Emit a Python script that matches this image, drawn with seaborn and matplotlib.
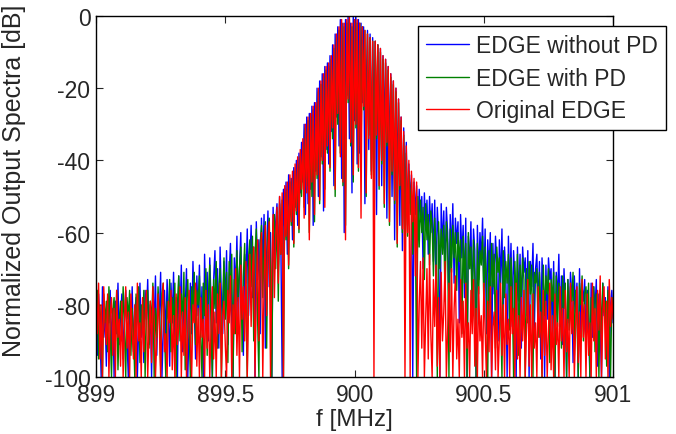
import numpy as np
import pandas as pd
import seaborn as sns
import matplotlib
matplotlib.use("Agg")
import matplotlib.pyplot as plt

# frequency axis, 0.005 MHz steps from 899 to 901
f_start = 899.0
f_step = 0.005

# EDGE without PD (blue)
without_pd = [
    -80, -94, -77, -86, -100, -75, -89, -82, -97, -78, -85, -76, -92, -81, -100, -79, -88, -74, -91, -83,
    -77, -95, -84, -76, -90, -100, -79, -87, -75, -93, -82, -78, -100, -86, -74, -89, -81, -96, -76, -84,
    -73, -91, -80, -100, -75, -86, -72, -94, -79, -83, -71, -100, -88, -76, -90, -73, -82, -97, -74, -85,
    -71, -89, -78, -100, -72, -84, -69, -93, -77, -81, -70, -100, -86, -74, -88, -68, -80, -95, -72, -83,
    -69, -87, -75, -100, -66, -82, -71, -90, -67, -79, -100, -73, -65, -85, -70, -92, -64, -78, -88, -68,
    -80, -65, -91, -72, -63, -84, -100, -67, -76, -61, -86, -70, -60, -81, -94, -66, -74, -59, -83, -69,
    -58, -78, -64, -100, -57, -73, -62, -88, -56, -70, -55, -92, -66, -54, -75, -60, -100, -53, -68, -57,
    -52, -71, -50, -63, -100, -48, -59, -46, -66, -44, -55, -45, -62, -42, -53, -40, -58, -38, -49, -35,
    -46, -30, -55, -28, -52, -27, -48, -25, -58, -24, -43, -20, -50, -18, -39, -16, -54, -14, -37, -13,
    -41, -11, -32, -8, -47, -5, -28, -3, -36, -1, -45, -2, -60, -1, -22, 0, -34, -2, -49, 0,
    -29, 0, -41, -1, -38, -2, -24, -3, -52, -21, -4, -37, -5, -43, -6, -30, -7, -55, -8, -35,
    -9, -47, -11, -33, -12, -56, -14, -40, -16, -50, -18, -62, -20, -46, -23, -58, -28, -65, -31, -52,
    -35, -58, -41, -52, -44, -100, -46, -55, -47, -62, -48, -57, -50, -70, -49, -59, -51, -66, -50, -60,
    -52, -68, -51, -75, -53, -61, -100, -52, -64, -54, -72, -53, -60, -80, -55, -66, -52, -74, -56, -63,
    -57, -85, -55, -67, -58, -78, -56, -100, -61, -70, -57, -82, -59, -65, -100, -58, -73, -60, -68, -56,
    -75, -59, -88, -62, -71, -60, -100, -63, -77, -61, -69, -90, -62, -74, -59, -84, -64, -72, -100, -61,
    -76, -63, -86, -65, -73, -100, -64, -79, -66, -92, -64, -71, -67, -83, -65, -100, -68, -75, -63, -88,
    -70, -66, -81, -68, -95, -67, -76, -100, -69, -84, -67, -73, -70, -90, -68, -100, -71, -79, -66, -86,
    -72, -91, -70, -80, -100, -73, -85, -71, -77, -96, -72, -82, -74, -100, -70, -88, -75, -79, -73, -93,
    -76, -84, -100, -74, -89, -75, -81, -73, -97, -77, -86, -100, -74, -83, -78, -92, -75, -100, -80, -76,
    -85,
]

# EDGE with PD (green)
with_pd = [
    -83, -76, -95, -80, -88, -100, -77, -85, -79, -93, -75, -87, -100, -82, -78, -90, -76, -98, -84, -79,
    -90, -75, -86, -100, -78, -84, -76, -94, -81, -88, -100, -77, -83, -75, -96, -80, -87, -76, -100, -82,
    -76, -92, -79, -85, -74, -100, -81, -89, -75, -83, -97, -77, -74, -88, -100, -79, -84, -73, -93, -78,
    -86, -74, -100, -80, -72, -90, -77, -84, -71, -98, -79, -73, -87, -100, -75, -82, -71, -91, -76, -80,
    -72, -89, -100, -74, -83, -70, -94, -77, -69, -86, -100, -73, -81, -68, -92, -75, -70, -100, -79, -67,
    -84, -71, -96, -68, -77, -66, -100, -73, -88, -65, -79, -70, -64, -93, -72, -63, -82, -100, -67, -62,
    -75, -61, -90, -66, -59, -84, -100, -63, -58, -78, -65, -57, -92, -61, -56, -73, -100, -58, -55, -70,
    -54, -79, -52, -66, -51, -100, -49, -62, -48, -70, -46, -58, -45, -64, -43, -55, -41, -60, -39, -50,
    -36, -53, -31, -47, -29, -60, -28, -50, -26, -57, -25, -45, -21, -52, -19, -41, -17, -48, -15, -38,
    -14, -43, -12, -34, -9, -50, -6, -30, -4, -38, -2, -47, -3, -58, -2, -24, -1, -36, -3, -46,
    -1, -31, -2, -43, -2, -40, -3, -26, -4, -50, -5, -33, -6, -44, -7, -55, -7, -34, -8, -48,
    -10, -41, -12, -53, -13, -36, -15, -58, -17, -44, -19, -52, -21, -64, -24, -48, -29, -60, -33, -67,
    -38, -61, -43, -55, -46, -66, -48, -58, -100, -50, -64, -51, -60, -53, -73, -52, -62, -55, -69, -54,
    -58, -72, -56, -64, -100, -57, -70, -59, -66, -58, -79, -57, -63, -100, -59, -71, -58, -67, -60, -76,
    -60, -68, -62, -88, -61, -74, -63, -100, -60, -70, -64, -83, -62, -72, -100, -63, -77, -65, -69, -61,
    -80, -64, -73, -100, -65, -86, -63, -75, -66, -92, -64, -71, -67, -82, -100, -65, -78, -68, -74, -66,
    -87, -67, -76, -100, -68, -81, -66, -94, -69, -78, -67, -73, -100, -70, -85, -68, -77, -69, -100, -71,
    -74, -70, -89, -71, -80, -100, -69, -83, -72, -77, -70, -96, -73, -79, -71, -100, -72, -86, -74, -78,
    -92, -72, -81, -74, -100, -73, -87, -75, -79, -71, -94, -76, -83, -100, -74, -80, -72, -90, -77, -75,
    -85, -74, -100, -78, -83, -75, -93, -77, -80, -100, -76, -88, -74, -82, -79, -97, -76, -84, -100, -78,
    -82,
]

# Original EDGE (red)
original = [
    -76, -88, -74, -95, -80, -100, -75, -86, -91, -77, -100, -83, -78, -94, -81, -100, -76, -89, -84, -97,
    -79, -100, -86, -75, -92, -82, -100, -77, -88, -95, -80, -100, -74, -90, -85, -100, -78, -93, -83, -76,
    -100, -87, -79, -96, -75, -84, -100, -90, -77, -86, -100, -81, -74, -93, -88, -100, -79, -85, -76, -98,
    -83, -100, -77, -91, -86, -75, -100, -82, -94, -78, -100, -87, -76, -90, -100, -80, -85, -74, -97, -81,
    -100, -78, -89, -84, -100, -76, -92, -80, -100, -86, -75, -95, -82, -100, -77, -88, -74, -100, -83, -79,
    -91, -100, -76, -85, -72, -100, -80, -88, -70, -94, -78, -100, -69, -84, -75, -90, -68, -100, -79, -66,
    -86, -71, -64, -100, -77, -62, -90, -68, -60, -100, -74, -58, -83, -65, -57, -100, -70, -55, -78, -61,
    -53, -74, -50, -66, -49, -100, -47, -61, -46, -69, -44, -57, -43, -63, -41, -54, -39, -59, -37, -48,
    -34, -56, -30, -49, -28, -62, -27, -46, -25, -55, -24, -44, -20, -51, -18, -40, -16, -53, -14, -36,
    -13, -42, -11, -31, -8, -48, -5, -27, -3, -39, -1, -46, -2, -62, -1, -23, 0, -35, -2, -44,
    -1, -30, -1, -42, -2, -56, -3, -25, -4, -49, -5, -34, -6, -45, -7, -100, -7, -33, -8, -47,
    -9, -40, -11, -52, -12, -35, -14, -57, -16, -43, -18, -51, -20, -63, -23, -47, -28, -59, -32, -100,
    -36, -60, -40, -100, -43, -57, -45, -72, -46, -100, -80, -68, -92, -67, -100, -84, -70, -95, -66, -88,
    -100, -73, -86, -69, -97, -78, -100, -71, -90, -82, -68, -100, -87, -74, -93, -70, -100, -81, -72, -95,
    -84, -100, -73, -89, -79, -100, -74, -92, -85, -100, -76, -88, -73, -97, -81, -100, -75, -90, -83, -100,
    -74, -87, -100, -79, -93, -75, -100, -86, -82, -98, -76, -100, -89, -74, -94, -80, -100, -77, -91, -84,
    -100, -75, -88, -81, -100, -74, -95, -83, -100, -78, -90, -76, -100, -86, -73, -97, -80, -100, -77, -92,
    -85, -100, -75, -89, -82, -100, -76, -94, -79, -100, -87, -74, -98, -83, -100, -77, -91, -85, -100, -75,
    -90, -81, -100, -76, -93, -84, -100, -74, -88, -79, -100, -86, -75, -96, -82, -100, -73, -89, -80, -100,
    -77, -94, -85, -100, -74, -90, -81, -100, -76, -87, -72, -100, -83, -75, -95, -79, -100, -73, -86, -78,
    -84,
]

names = ["EDGE without PD", "EDGE with PD", "Original EDGE"]
colors = ["#0000ff", "#008000", "#ff0000"]

freq = f_start + f_step * np.arange(len(without_pd))
df = pd.concat([
    pd.DataFrame({"f": freq, "dB": vals, "series": name})
    for name, vals in zip(names, [without_pd, with_pd, original])
])

sns.set_style("ticks")
plt.rcParams["font.family"] = ["Liberation Sans", "DejaVu Sans"]
plt.rcParams["axes.unicode_minus"] = False

fig = plt.figure(figsize=(6.76, 4.35), dpi=100)
ax = fig.add_axes([0.142, 0.131, 0.765, 0.830])

sns.lineplot(data=df, x="f", y="dB", hue="series", hue_order=names,
             palette=colors, estimator=None, sort=False, lw=1.0, ax=ax, legend=False)

ax.set_xlim(899, 901)
ax.set_ylim(-100, 0)
ax.set_xticks([899, 899.5, 900, 900.5, 901])
ax.set_xticklabels(["899", "899.5", "900", "900.5", "901"])
ax.set_yticks([0, -20, -40, -60, -80, -100])
ax.set_xlabel("f [MHz]", fontsize=17.5, labelpad=2)
ax.set_ylabel("Normalized Output Spectra [dB]", fontsize=18, labelpad=2)
ax.yaxis.set_label_coords(-0.135, 0.545)
ax.tick_params(direction="in", length=5, width=0.8, labelsize=16.5,
               top=True, right=True, pad=4)
for s in ax.spines.values():
    s.set_visible(True)
    s.set_linewidth(1.0)
    s.set_color("black")

handles = [plt.Line2D([], [], color=c, lw=1.0) for c in colors]
leg = fig.legend(handles, names, loc="upper left", bbox_to_anchor=(0.618, 0.938),
                 fontsize=16.5, frameon=True, fancybox=False, framealpha=1,
                 edgecolor="black", handlelength=1.9, handletextpad=0.3,
                 borderpad=0.35, labelspacing=0.42, borderaxespad=0)
leg.get_frame().set_linewidth(1.0)

fig.savefig("out.png", dpi=100)
